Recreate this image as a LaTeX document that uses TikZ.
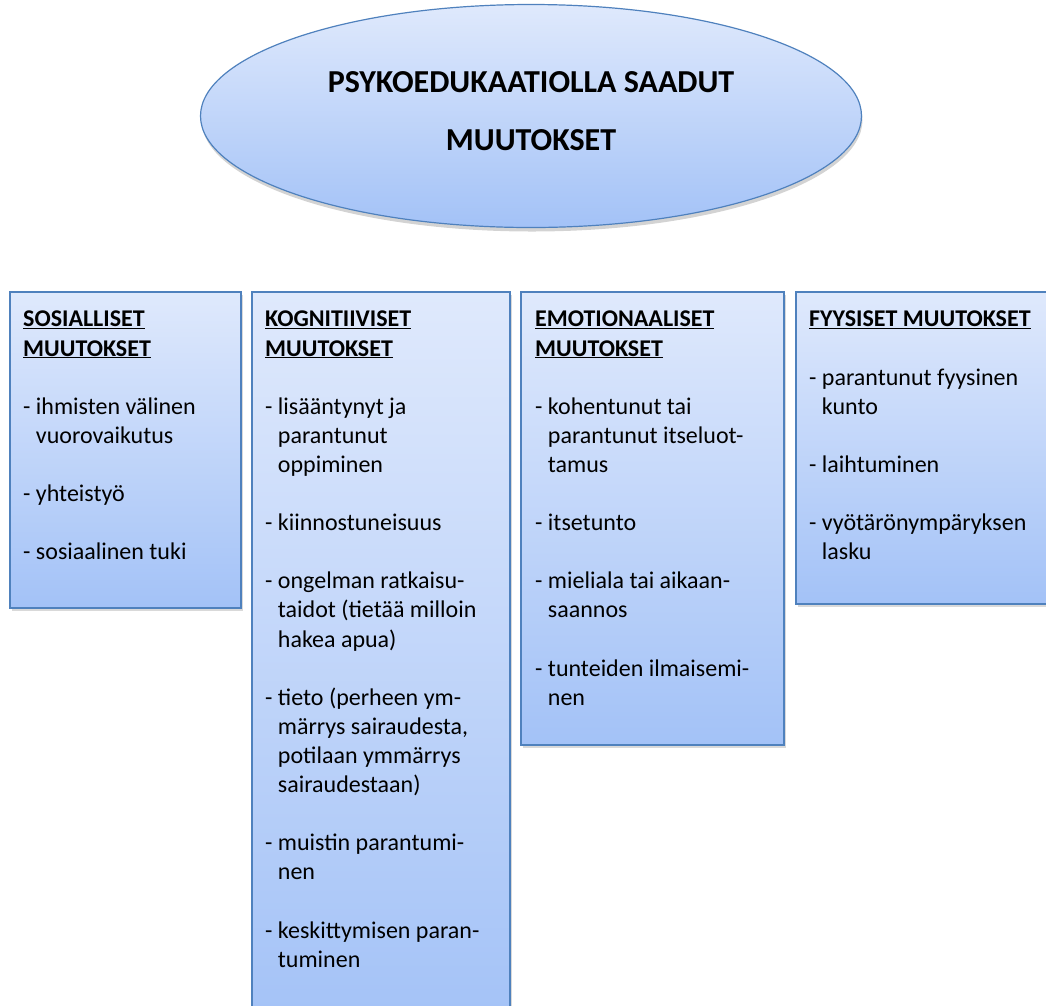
\documentclass[tikz,border=0pt]{standalone}
\usepackage{fontspec}
\setmainfont{Carlito}
\usetikzlibrary{shapes.geometric,shadows,positioning}
\definecolor{rimblue}{RGB}{79,129,189}
\definecolor{toplight}{RGB}{223,233,252}
\definecolor{bottomblue}{RGB}{163,194,247}
\tikzset{
  panel/.style={draw=rimblue,line width=1.2pt,top color=toplight,bottom color=bottomblue,
    inner sep=0pt,outer sep=0pt,anchor=north west,
    drop shadow={shadow xshift=2pt,shadow yshift=-3pt,opacity=0.3}},
  paneltext/.style={anchor=north west,inner sep=0pt,align=left,
    font=\fontsize{24pt}{29.1pt}\selectfont},
  titletext/.style={anchor=north,inner sep=0pt,align=center,
    font=\fontsize{32pt}{58pt}\selectfont\bfseries}
}
\newcommand{\hd}[1]{\underline{\textbf{#1}}}
\newcommand{\ind}{\hspace*{0.53em}}
\begin{document}
\begin{tikzpicture}[x=1pt,y=-1pt]
  \useasboundingbox (0,0) rectangle (1046,1005);
  \clip (0,0) rectangle (1046,1005);
  \node[ellipse,draw=rimblue,line width=1.2pt,top color=toplight,bottom color=bottomblue,
    minimum width=661pt,minimum height=223pt,inner sep=0pt,
    drop shadow={shadow xshift=1pt,shadow yshift=-4pt,opacity=0.35}] (title) at (531,116) {};
  \node[titletext] (titletxt) at (531,71) {PSYKOEDUKAATIOLLA SAADUT\\MUUTOKSET};

  \node[panel,minimum width=231pt,minimum height=316pt] (sos) at (10,292) {};
  \node[panel,minimum width=258pt,minimum height=740pt] (kog) at (252,292) {};
  \node[panel,minimum width=263pt,minimum height=453pt] (emo) at (521,292) {};
  \node[panel,minimum width=280pt,minimum height=312pt] (fyy) at (796,292) {};

  \node[paneltext] (sostxt) at ([xshift=13pt,yshift=-19pt]sos.north west) {%
    \hd{SOSIALLISET}\\\hd{MUUTOKSET}\\[29.1pt]
    - ihmisten välinen\\\ind vuorovaikutus\\[29.1pt]
    - yhteistyö\\[29.1pt]
    - sosiaalinen tuki};
  \node[paneltext] (kogtxt) at ([xshift=13pt,yshift=-19pt]kog.north west) {%
    \hd{KOGNITIIVISET}\\\hd{MUUTOKSET}\\[29.1pt]
    - lisääntynyt ja\\\ind parantunut\\\ind oppiminen\\[29.1pt]
    - kiinnostuneisuus\\[29.1pt]
    - ongelman ratkaisu-\\\ind taidot (tietää milloin\\\ind hakea apua)\\[29.1pt]
    - tieto (perheen ym-\\\ind märrys sairaudesta,\\\ind potilaan ymmärrys\\\ind sairaudestaan)\\[29.1pt]
    - muistin parantumi-\\\ind nen\\[29.1pt]
    - keskittymisen paran-\\\ind tuminen};
  \node[paneltext] (emotxt) at ([xshift=14pt,yshift=-19pt]emo.north west) {%
    \hd{EMOTIONAALISET}\\\hd{MUUTOKSET}\\[29.1pt]
    - kohentunut tai\\\ind parantunut itseluot-\\\ind tamus\\[29.1pt]
    - itsetunto\\[29.1pt]
    - mieliala tai aikaan-\\\ind saannos\\[29.1pt]
    - tunteiden ilmaisemi-\\\ind nen};
  \node[paneltext] (fyytxt) at ([xshift=13pt,yshift=-19pt]fyy.north west) {%
    \hd{FYYSISET MUUTOKSET}\\[29.1pt]
    - parantunut fyysinen\\\ind kunto\\[29.1pt]
    - laihtuminen\\[29.1pt]
    - vyötärönympäryksen\\\ind lasku};
\end{tikzpicture}
\end{document}
